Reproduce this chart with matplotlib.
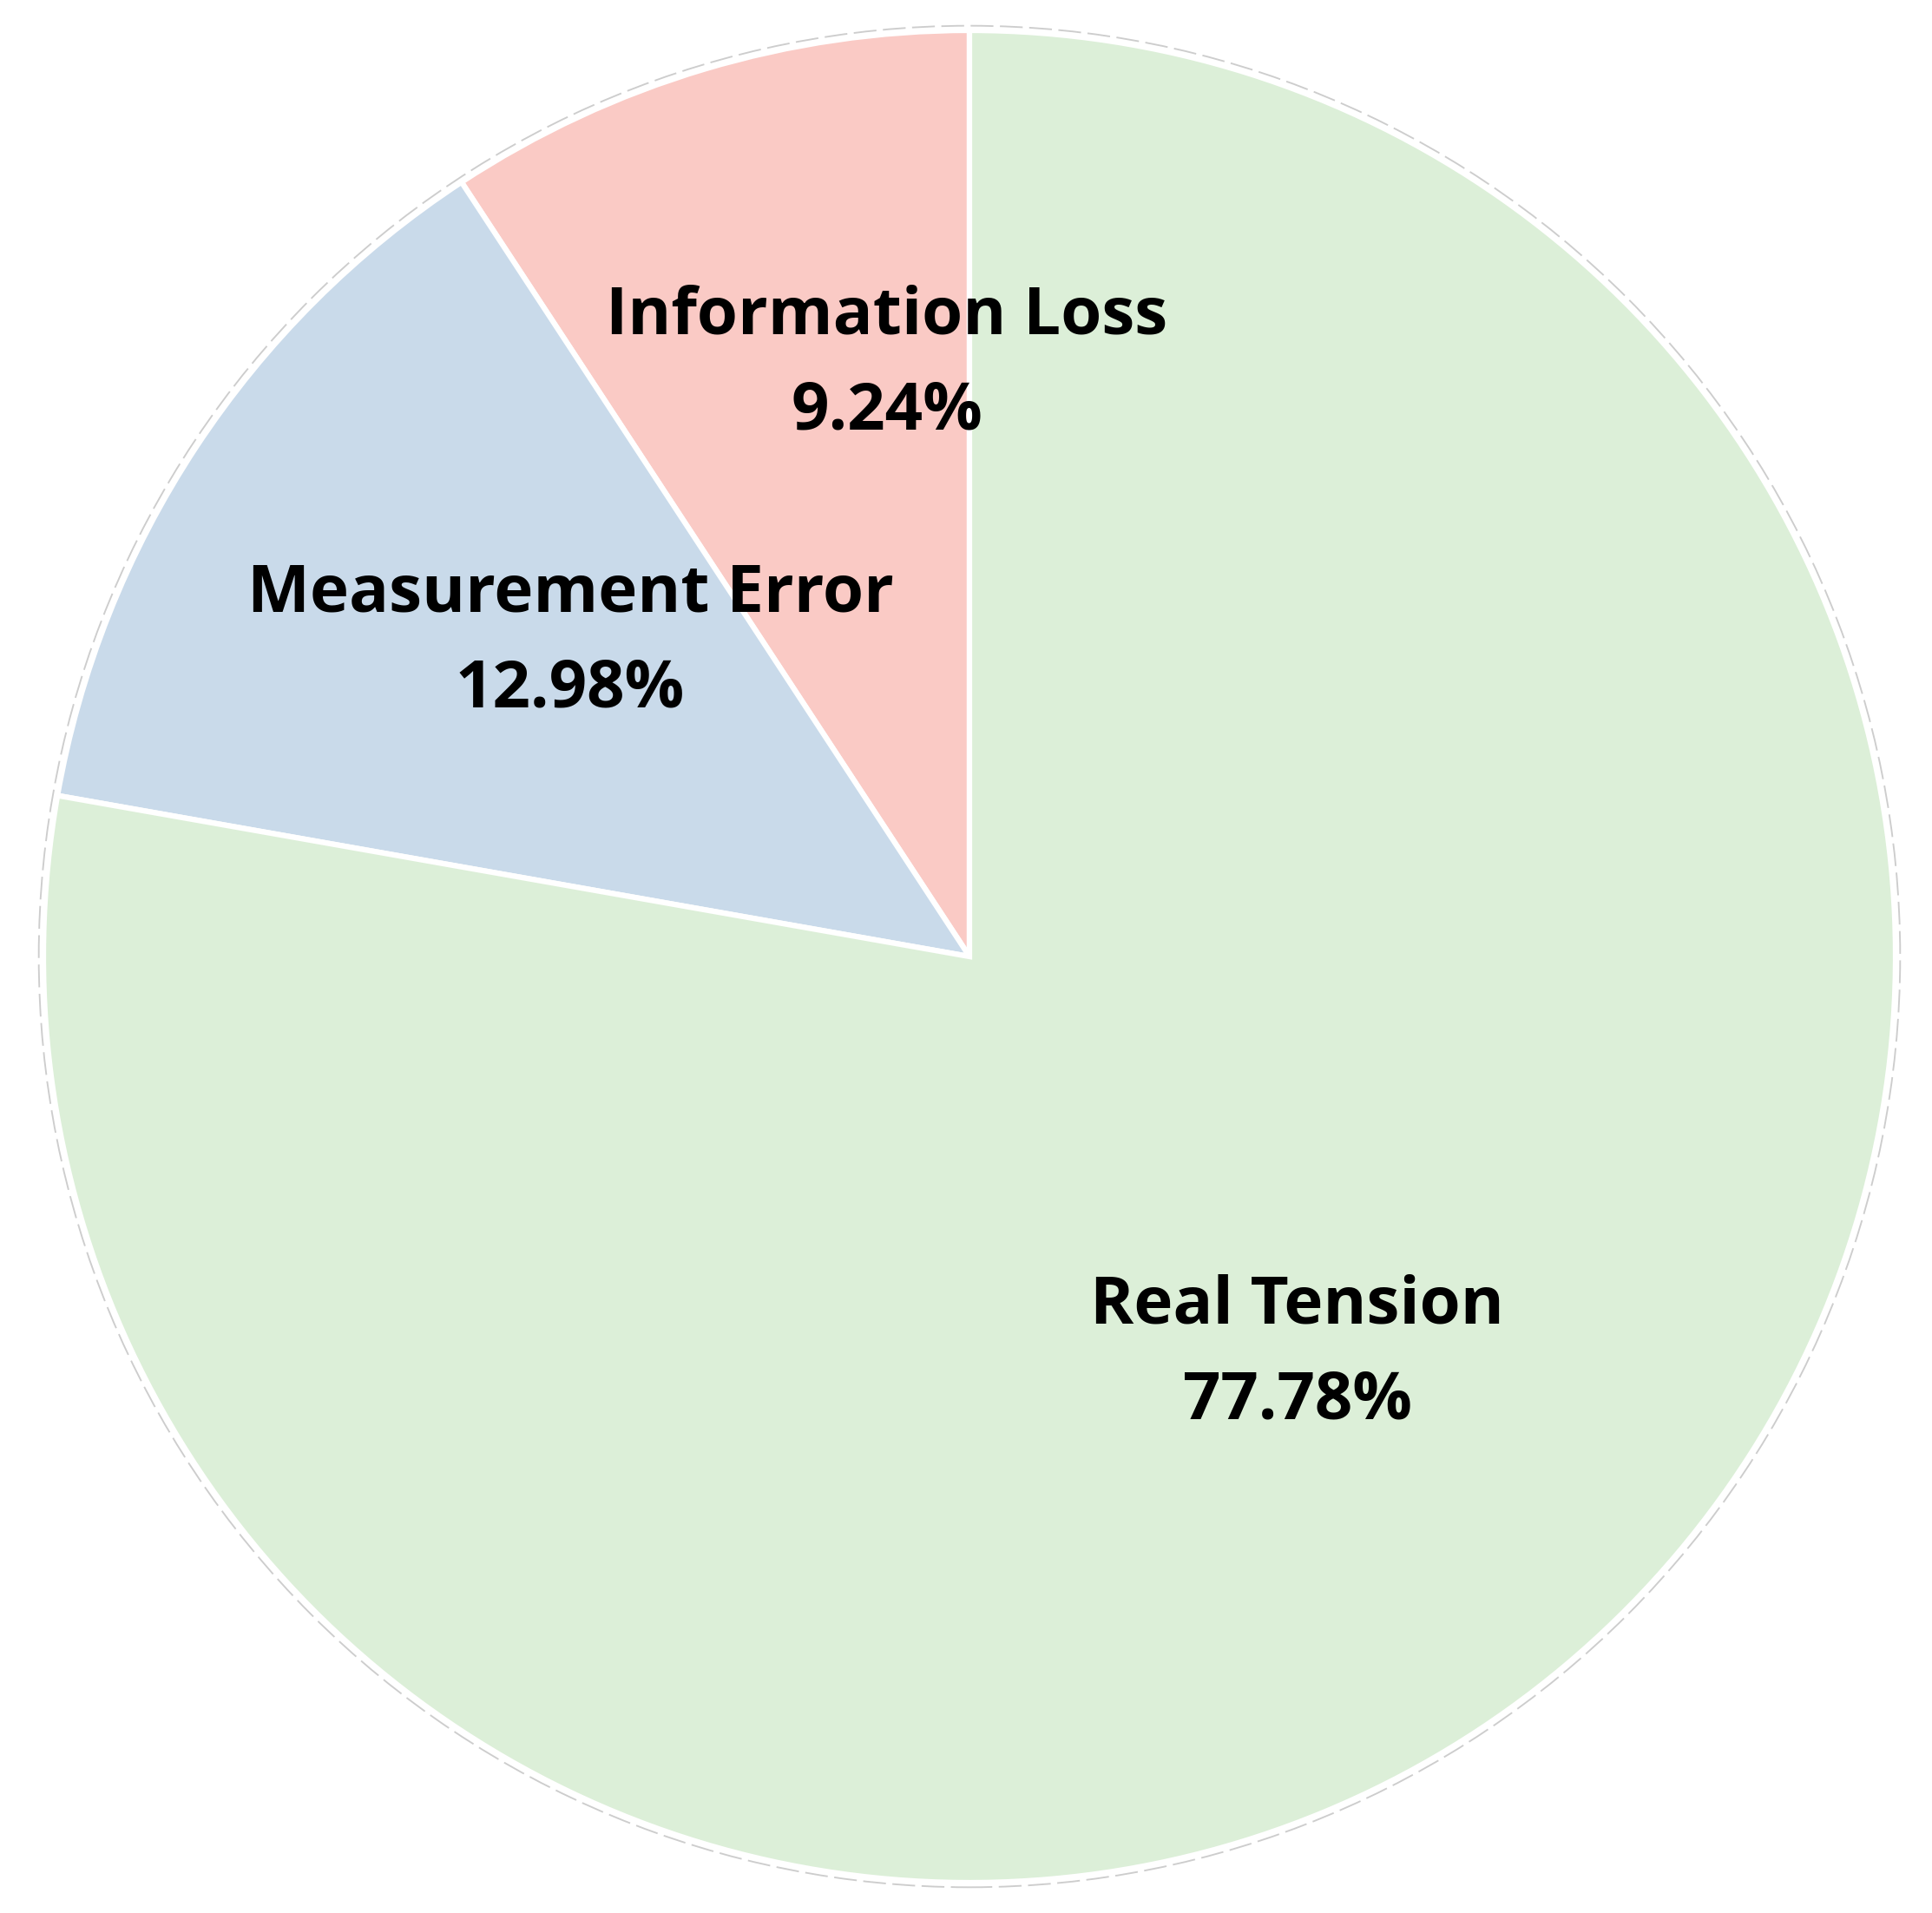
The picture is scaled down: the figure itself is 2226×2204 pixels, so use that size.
import matplotlib.pyplot as plt
from matplotlib.patches import Circle

# slice data (counter-clockwise from 12 o'clock)
labels = ["Information Loss", "Measurement Error", "Real Tension"]
values = [9.24, 12.98, 77.78]
colors = ["#FACAC5", "#C9DAEA", "#DCEFD8"]

# where each label block sits, in pie-radius units
label_pos = [(-0.089, 0.639), (-0.431, 0.339), (0.354, -0.429)]

plt.rcParams['font.family'] = ['Open Sans', 'DejaVu Sans']

fig = plt.figure(figsize=(2226 / 300, 2204 / 300), dpi=300)
ax = fig.add_axes([0, 0, 1, 1])

wedges, _ = ax.pie(values, colors=colors, startangle=90, counterclock=True,
                   wedgeprops=dict(edgecolor='white', linewidth=1.5))

# faint dashed ring just outside the pie
ax.add_patch(Circle((0, 0), 1.005, fill=False, ls=(0, (14, 4)), ec='#cdcdcd', lw=0.45))

for lab, val, (x, y) in zip(labels, values, label_pos):
    ax.text(x, y, f"{lab}\n{val:.2f}%", ha='center', va='center',
            fontsize=18.3, fontweight='bold', linespacing=1.62)

ax.set_xlim(-1117 / 1067, (2226 - 1117) / 1067)
ax.set_ylim(-1102 / 1067, 1102 / 1067)
ax.set_aspect('auto')
ax.axis('off')

fig.savefig("out.png", dpi=300)
